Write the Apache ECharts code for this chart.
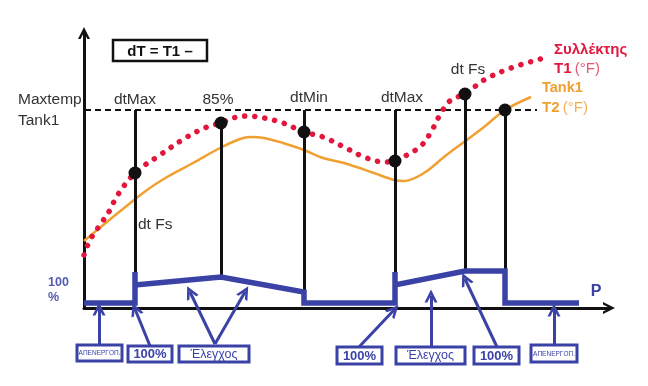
<!DOCTYPE html>
<html><head><meta charset="utf-8">
<script src="https://cdn.jsdelivr.net/npm/echarts@6/dist/echarts.min.js"></script>
<style>html,body{margin:0;padding:0;background:#fff}#c{width:648px;height:386px}</style>
</head><body><div id="c"></div>
<script>
// Collector temperature T1 (dotted red)
const t1Points = [[0,53],[6,68],[16,83],[26,98],[33,112],[51,135],[76,153],[103,171],[123,181],[137,185],[149,190],[163,192],[180,190],[199,185],[220,176],[239,171],[260,161],[280,151],[300,146],[311,147],[323,153],[337,162],[347,176],[357,195],[367,208],[381,214],[400,228],[427,240],[460,250]];
// Tank temperature T2 (orange)
const t2Points = [[0,67],[59,115],[83,131],[109,145],[136,160],[156,169],[166,171],[180,170],[199,165],[220,158],[239,150],[260,145],[290,135],[310,128],[320,127],[340,135],[360,151],[380,166],[400,181],[421,198],[447,211]];
// Pump power P (blue)
const powerPoints = [[0,5],[51,5],[51,36],[51,23],[137,31],[220,16],[220,5],[311,5],[311,36],[311,23],[381,37],[421,37],[421,5],[495,5]];
// Maxtemp Tank1 level
const maxTemp = 198;
const maxTempRange = [1, 453];
// event markers: [x, top, bottom]
const eventLines = [[51,198,36],[137,185,31],[220,198,16],[311,198,36],[381,214,37],[421,198,37]];
const eventDots = [[51,135],[137,185],[220,176],[311,147],[381,214],[421,198]];
const eventLabels = [['dtMax',51,208],['85%',134,208],['dtMin',225,210],['dtMax',318,210],['dt Fs',384,238]];
const sideLabels = [['dt Fs',54,83],['Maxtemp',-66,208],['Tank1',-66,187]];
// bottom annotation boxes: [text, x0, y0, x1, y1]
const boxes = [['ΑΠΕΝΕΡΓΟΠ.',-7,-37,38,-53],['100%',44,-38,88,-54],['Έλεγχος',95,-38,165,-54],['100%',253,-39,298,-56],['Έλεγχος',312,-39,381,-56],['100%',390,-39,435,-56],['ΑΠΕΝΕΡΓΟΠ.',447,-37,493,-54]];
// arrows: [[fromX, fromY],[toX, toY]]
const arrows = [[[15,-37],[15,-1]],[[66,-38],[51,-1]],[[131,-36],[106,16]],[[131,-36],[161,16]],[[275,-39],[310,-2]],[[347,-39],[347,12]],[[413,-39],[381,29]],[[470,-37],[470,-2]]];
const titleBox = ['dT = T1 –',29,268,123,247];

const BLUE = '#3b42a6', RED = '#e2173d', ORANGE = '#f0a030', INK = '#111';
const FONT = '"Liberation Sans", Arial, sans-serif';
const chevron = 'path://M0,12 L6,0 L12,12 L9.4,12 L6,5.2 L2.6,12 Z';

function textSeries(rows, style, z) {
  return {
    type: 'custom', coordinateSystem: 'cartesian2d', clip: false, silent: true, z: z || 10,
    data: rows.map(r => [r[1], r[2]]),
    renderItem: (params, api) => {
      const p = api.coord([api.value(0), api.value(1)]);
      return { type: 'text', x: p[0], y: p[1], style: Object.assign({ text: rows[params.dataIndex][0] }, style) };
    }
  };
}

function boxFont(t) {
  if (t === '100%') return 'bold 13px ' + FONT;
  if (t === 'Έλεγχος') return '12.5px ' + FONT;
  return '6.5px ' + FONT;
}

const option = {
  animation: false,
  grid: { left: 84, top: 33, width: 525, height: 275, containLabel: false },
  xAxis: { type: 'value', min: 0, max: 525, splitLine: { show: false }, axisTick: { show: false }, axisLabel: { show: false },
    axisLine: { show: true, symbol: ['none', chevron], symbolSize: [12, 14], lineStyle: { color: INK, width: 3 } } },
  yAxis: { type: 'value', min: 0, max: 275, splitLine: { show: false }, axisTick: { show: false }, axisLabel: { show: false },
    axisLine: { show: true, symbol: ['none', chevron], symbolSize: [12, 14], lineStyle: { color: INK, width: 3 } } },
  series: [
    { type: 'line', data: t2Points, smooth: 0.35, symbol: 'none', z: 3, clip: false,
      lineStyle: { color: ORANGE, width: 2.5 } },
    { type: 'line', data: t1Points, smooth: 0.35, symbol: 'none', z: 4, clip: false,
      lineStyle: { color: RED, width: 5.5, type: [0.1, 10], cap: 'round' } },
    { type: 'lines', coordinateSystem: 'cartesian2d', clip: false, z: 2, silent: true,
      data: [{ coords: [[maxTempRange[0], maxTemp], [maxTempRange[1], maxTemp]] }],
      lineStyle: { color: INK, width: 2, type: [6, 4], opacity: 1 } },
    { type: 'lines', coordinateSystem: 'cartesian2d', clip: false, z: 5, silent: true,
      data: eventLines.map(v => ({ coords: [[v[0], v[1]], [v[0], v[2]]] })),
      lineStyle: { color: INK, width: 3, opacity: 1 } },
    { type: 'line', data: powerPoints, symbol: 'none', z: 6, clip: false,
      lineStyle: { color: BLUE, width: 5.5, join: 'miter' } },
    { type: 'scatter', data: eventDots, symbol: 'circle', symbolSize: 13, z: 8, silent: true,
      itemStyle: { color: INK, opacity: 1 } },
    { type: 'lines', coordinateSystem: 'cartesian2d', clip: false, z: 7, silent: true,
      symbol: ['none', chevron], symbolSize: [11, 13],
      data: arrows.map(a => ({ coords: a })),
      lineStyle: { color: BLUE, width: 3, opacity: 1 }, itemStyle: { color: BLUE } },
    { type: 'custom', coordinateSystem: 'cartesian2d', clip: false, silent: true, z: 9,
      data: boxes.map(b => [b[1], b[2], b[3], b[4]]),
      renderItem: (params, api) => {
        const a = api.coord([api.value(0), api.value(1)]);
        const b = api.coord([api.value(2), api.value(3)]);
        const t = boxes[params.dataIndex][0];
        return { type: 'group', children: [
          { type: 'rect', shape: { x: a[0], y: a[1], width: b[0] - a[0], height: b[1] - a[1] },
            style: { fill: '#fff', stroke: BLUE, lineWidth: 3 } },
          { type: 'text', x: (a[0] + b[0]) / 2, y: (a[1] + b[1]) / 2 + 0.5,
            style: { text: t, fill: BLUE, font: boxFont(t), align: 'center', verticalAlign: 'middle' } }
        ] };
      } },
    { type: 'custom', coordinateSystem: 'cartesian2d', clip: false, silent: true, z: 9,
      data: [[titleBox[1], titleBox[2], titleBox[3], titleBox[4]]],
      renderItem: (params, api) => {
        const a = api.coord([api.value(0), api.value(1)]);
        const b = api.coord([api.value(2), api.value(3)]);
        return { type: 'group', children: [
          { type: 'rect', shape: { x: a[0], y: a[1], width: b[0] - a[0], height: b[1] - a[1] },
            style: { fill: '#fff', stroke: INK, lineWidth: 2.5 } },
          { type: 'text', x: (a[0] + b[0]) / 2, y: (a[1] + b[1]) / 2 + 1,
            style: { text: titleBox[0], fill: INK, font: 'bold 15px ' + FONT, align: 'center', verticalAlign: 'middle' } }
        ] };
      } },
    textSeries(eventLabels, { fill: '#333', font: '15.5px ' + FONT, align: 'center', verticalAlign: 'middle' }),
    textSeries(sideLabels, { fill: '#333', font: '15.5px ' + FONT, align: 'left', verticalAlign: 'middle' }),
    textSeries([['Συλλέκτης',470,258]], { fill: RED, font: 'bold 15px ' + FONT, align: 'left', verticalAlign: 'middle' }),
    textSeries([['{b|T1} {n|(°F)}',470,239]], { fill: RED, align: 'left', verticalAlign: 'middle',
      rich: { b: { font: 'bold 15px ' + FONT, fill: RED }, n: { font: '15px ' + FONT, fill: '#e8566f' } } }),
    textSeries([['Tank1',458,220]], { fill: ORANGE, font: 'bold 14.5px ' + FONT, align: 'left', verticalAlign: 'middle' }),
    textSeries([['{b|T2} {n|(°F)}',458,200]], { fill: ORANGE, align: 'left', verticalAlign: 'middle',
      rich: { b: { font: 'bold 15px ' + FONT, fill: ORANGE }, n: { font: '15px ' + FONT, fill: '#f3b050' } } }),
    textSeries([['100',-36,25],['%',-36,10]], { fill: '#545bb3', font: 'bold 12.5px ' + FONT, align: 'left', verticalAlign: 'middle' }),
    textSeries([['P',512,16]], { fill: BLUE, font: 'bold 16px ' + FONT, align: 'center', verticalAlign: 'middle' })
  ]
};
const chart = echarts.init(document.getElementById('c'), null, { renderer: 'canvas' });
chart.setOption(option);
</script>
</body></html>
